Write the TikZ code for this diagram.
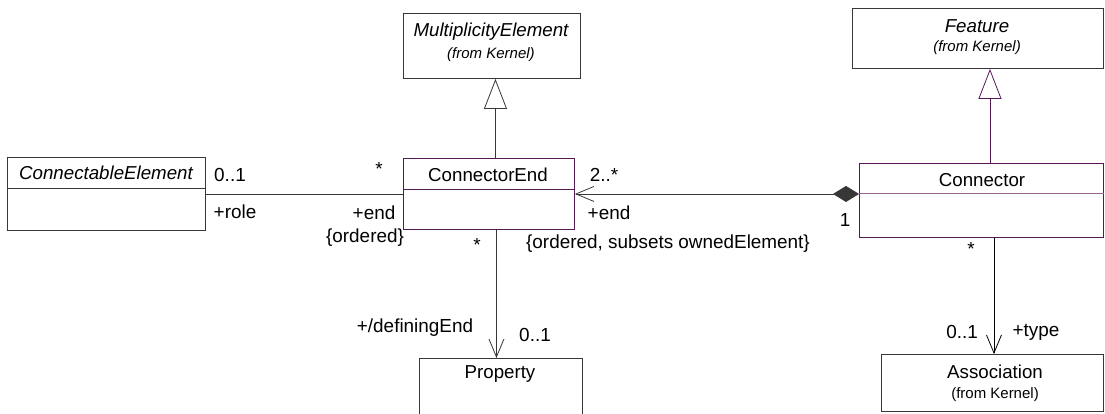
\documentclass[tikz,border=0pt]{standalone}
\usepackage{fontspec}
\setmainfont{Liberation Sans}
\usetikzlibrary{arrows.meta}
\definecolor{umlpurple}{RGB}{85,25,85}
\definecolor{umllight}{RGB}{150,100,150}
\definecolor{boxgray}{RGB}{55,55,55}
\begin{document}
\begin{tikzpicture}[x=1pt,y=-1pt,
  box/.style={draw=boxgray, line width=0.9pt, rectangle, inner sep=0pt, anchor=north west},
  pbox/.style={box, draw=umlpurple},
  title/.style={inner sep=0pt, font=\fontsize{18.7}{22}\selectfont},
  small/.style={inner sep=0pt, font=\fontsize{15}{18}\selectfont},
  lab/.style={inner sep=0pt, font=\fontsize{18.9}{22}\selectfont},
  conn/.style={draw=boxgray, line width=0.8pt},
  pconn/.style={draw=umlpurple, line width=0.8pt},
  barb/.style={-{Straight Barb[length=18pt,width=15pt,line width=0.8pt]}},
  gen/.style={-{Triangle[open,length=30pt,width=23pt,line width=0.8pt]}}
]
\useasboundingbox (0,0) rectangle (1105,413);

% boxes
\node[box, minimum width=177pt, minimum height=65pt] (mult) at (403,13) {};
\node[box, minimum width=251pt, minimum height=60pt] (feat) at (852,8) {};
\node[box, minimum width=198pt, minimum height=73pt] (conel) at (7,157) {};
\node[pbox, minimum width=171pt, minimum height=71pt] (cend) at (403,158) {};
\node[pbox, minimum width=244pt, minimum height=74pt] (connb) at (859,163) {};
\node[box, minimum width=163pt, minimum height=75pt] (prop) at (419,358) {};
\node[box, minimum width=222pt, minimum height=57pt] (asso) at (881,354) {};

% dividers
\draw[draw=boxgray, line width=0.9pt] (conel.west |- 0,188) -- (conel.east |- 0,188);
\draw[draw=umlpurple, line width=0.9pt] (cend.west |- 0,189) -- (cend.east |- 0,189);
\draw[draw=umllight, line width=0.9pt] (connb.west |- 0,193) -- (connb.east |- 0,193);

% titles
\node[title] (multT) at (491,32) {\itshape MultiplicityElement};
\node[small] (multK) at (491,55) {\itshape (from Kernel)};
\node[title] (featT) at (977,26) {\itshape Feature};
\node[small] (featK) at (977,48) {\itshape (from Kernel)};
\node[title] (conelT) at (106,173) {\itshape ConnectableElement};
\node[title] (cendT) at (488,175) {ConnectorEnd};
\node[title] (connT) at (982,180) {Connector};
\node[title] (propT) at (500,374) {Property};
\node[title] (assoT) at (995,372) {Association};
\node[small] (assoK) at (995,395) {(from Kernel)};

% connectors
\draw[conn] (conel.east) -- (cend.west);
\draw[conn, {Diamond[length=26pt,width=16pt]}-{Straight Barb[length=18pt,width=15pt,line width=0.8pt]}]
  (connb.west |- cend.east) -- (cend.east);
\draw[conn, gen] ([xshift=6.5pt]cend.north) -- ([xshift=6.5pt]cend.north |- mult.south);
\draw[pconn, gen] ([xshift=8.5pt]connb.north) -- ([xshift=8.5pt]connb.north |- feat.south);
\draw[conn, barb] ([xshift=7.5pt]cend.south) -- ([xshift=7.5pt]cend.south |- prop.north);
\draw[conn, barb, draw=black] ([xshift=12.5pt]connb.south) -- ([xshift=12.5pt]connb.south |- asso.north);

% labels
\node[lab] (l1) at (230,175) {0..1};
\node[lab] (l2) at (235,212) {+role};
\node[lab] (l3) at (379,169) {*};
\node[lab] (l4) at (374,213) {+end};
\node[lab] (l5) at (365,238) {\{ordered\}};
\node[lab] (l6) at (604,175) {2..*};
\node[lab] (l7) at (609,213) {+end};
\node[lab] (l8) at (845,220) {1};
\node[lab] (l9) at (477,245) {*};
\node[lab] (l10) at (668,244) {\{ordered, subsets ownedElement\}};
\node[lab] (l11) at (415,328) {+/definingEnd};
\node[lab] (l12) at (535,335) {0..1};
\node[lab] (l13) at (971,249) {*};
\node[lab] (l14) at (962,332) {0..1};
\node[lab] (l15) at (1036,332) {+type};
\end{tikzpicture}
\end{document}
